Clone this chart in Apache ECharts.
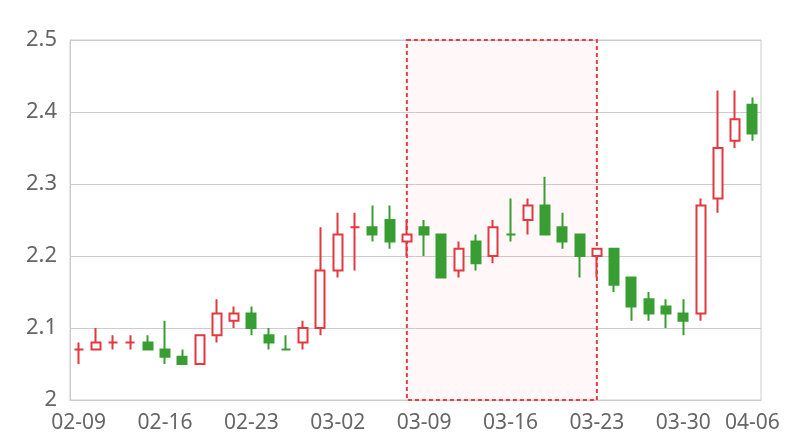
<!DOCTYPE html>
<html>
<head>
<meta charset="utf-8">
<script src="https://cdn.jsdelivr.net/npm/echarts@6/dist/echarts.min.js"></script>
<style>
  html, body { margin: 0; padding: 0; background: #fff; }
  #chart { width: 800px; height: 440px; }
</style>
</head>
<body>
<div id="chart"></div>
<script>
// trading days
var dates = [
  '02-09', '02-10', '02-11', '02-12', '02-13',
  '02-16', '02-17', '02-18', '02-19', '02-20',
  '02-23', '02-24', '02-25', '02-26', '02-27',
  '03-02', '03-03', '03-04', '03-05', '03-06',
  '03-09', '03-10', '03-11', '03-12', '03-13',
  '03-16', '03-17', '03-18', '03-19', '03-20',
  '03-23', '03-24', '03-25', '03-26', '03-27',
  '03-30', '03-31', '04-01', '04-02', '04-06'
];
var opens  = [2.07, 2.07, 2.08, 2.08, 2.08, 2.07, 2.06, 2.05, 2.09, 2.11,
              2.12, 2.09, 2.07, 2.08, 2.10, 2.18, 2.24, 2.24, 2.25, 2.22,
              2.24, 2.23, 2.18, 2.22, 2.20, 2.23, 2.25, 2.27, 2.24, 2.23,
              2.20, 2.21, 2.17, 2.14, 2.13, 2.12, 2.12, 2.28, 2.36, 2.41];
var closes = [2.07, 2.08, 2.08, 2.08, 2.07, 2.06, 2.05, 2.09, 2.12, 2.12,
              2.10, 2.08, 2.07, 2.10, 2.18, 2.23, 2.24, 2.23, 2.22, 2.23,
              2.23, 2.17, 2.21, 2.19, 2.24, 2.23, 2.27, 2.23, 2.22, 2.20,
              2.21, 2.16, 2.13, 2.12, 2.12, 2.11, 2.27, 2.35, 2.39, 2.37];
var lows   = [2.05, 2.07, 2.07, 2.07, 2.07, 2.05, 2.05, 2.05, 2.08, 2.10,
              2.09, 2.07, 2.07, 2.07, 2.09, 2.17, 2.18, 2.22, 2.21, 2.20,
              2.20, 2.17, 2.17, 2.18, 2.19, 2.22, 2.23, 2.23, 2.21, 2.17,
              2.17, 2.15, 2.11, 2.11, 2.10, 2.09, 2.11, 2.26, 2.35, 2.36];
var highs  = [2.08, 2.10, 2.09, 2.09, 2.09, 2.11, 2.07, 2.09, 2.14, 2.13,
              2.13, 2.10, 2.09, 2.11, 2.24, 2.26, 2.26, 2.27, 2.27, 2.25,
              2.25, 2.23, 2.22, 2.23, 2.25, 2.28, 2.28, 2.31, 2.26, 2.23,
              2.21, 2.21, 2.17, 2.15, 2.14, 2.14, 2.28, 2.43, 2.43, 2.42];
var areaFrom = '03-06';
var areaTo = '03-23';

var kdata = [];
for (let i = 0; i < dates.length; i++) {
    kdata.push([opens[i], closes[i], lows[i], highs[i]]);
}

var upColor = '#e2383f';
var downColor = '#389e33';

var myChart = echarts.init(document.getElementById('chart'));
var option = {
    animation: false,
    grid: {
        left: 70,
        right: 39,
        top: 40,
        bottom: 40,
        show: true,
        borderColor: '#ccc',
        borderWidth: 1
    },
    xAxis: {
        type: 'category',
        data: dates,
        boundaryGap: true,
        axisLine: { show: true, lineStyle: { color: '#ccc' } },
        axisTick: { show: false },
        splitLine: { show: false },
        axisLabel: {
            interval: function (index) {
                return index % 5 === 0 || index === dates.length - 1;
            },
            color: '#666',
            fontSize: 21,
            fontFamily: 'Noto Sans',
            margin: 13
        }
    },
    yAxis: {
        type: 'value',
        min: 2,
        max: 2.5,
        interval: 0.1,
        axisLine: { show: true, lineStyle: { color: '#ccc' } },
        axisTick: { show: false },
        splitLine: { lineStyle: { color: '#ccc' } },
        axisLabel: {
            color: '#666',
            fontSize: 22,
            fontFamily: 'Noto Sans',
            margin: 13
        }
    },
    series: [
        {
            type: 'candlestick',
            data: kdata,
            barWidth: '55%',
            itemStyle: {
                color: '#fff',
                color0: downColor,
                borderColor: upColor,
                borderColor0: downColor,
                borderWidth: 2
            },
            markArea: {
                silent: true,
                itemStyle: {
                    color: 'rgba(255, 120, 140, 0.06)',
                    borderColor: '#e63e46',
                    borderWidth: 2,
                    borderType: [4, 3]
                },
                data: [[{ xAxis: areaFrom, yAxis: 2.5 }, { xAxis: areaTo, yAxis: 2 }]]
            }
        }
    ]
};

option && myChart.setOption(option);
</script>
</body>
</html>
